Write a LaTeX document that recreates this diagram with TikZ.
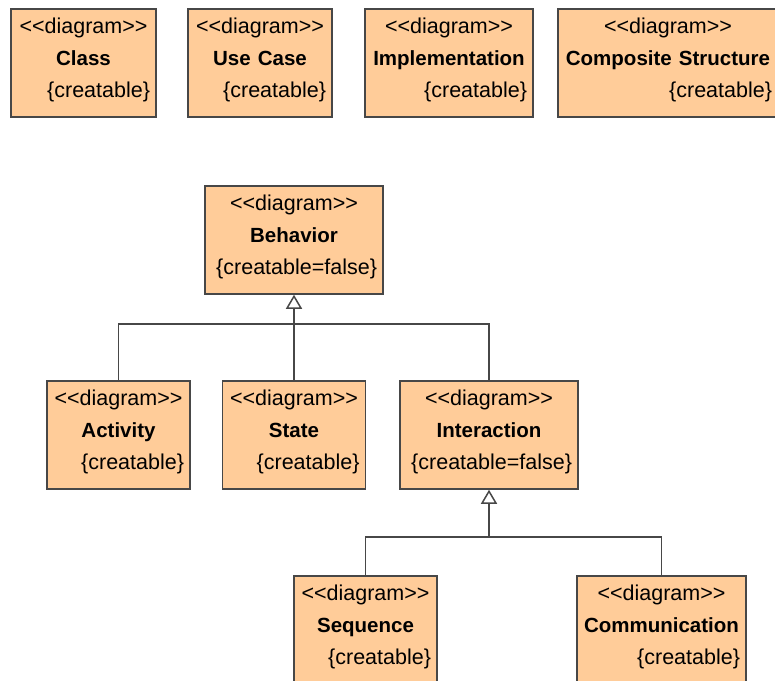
\documentclass[tikz,border=0pt]{standalone}
\usepackage{fontspec}
\setmainfont{Liberation Sans}[Ligatures=TeXOff]
\usetikzlibrary{arrows.meta}

\definecolor{boxfill}{HTML}{FFCC99}
\definecolor{boxline}{HTML}{474747}

% three-line diagram box text: stereotype, bold name, right-aligned property
\newcommand{\stereo}{<<diagram>>}
\newcommand{\diagtext}[2]{\rule{0pt}{24pt}\stereo\\{\fontsize{20.5}{32}\selectfont\bfseries #1}\\\makebox[\hsize][r]{#2}\rule[-20pt]{0pt}{20pt}}

\tikzset{
  dbox/.style={draw=boxline, fill=boxfill, line width=1.5pt,
    inner xsep=6pt, inner ysep=0pt, align=center,
    font=\fontsize{21.5}{32}\selectfont, text width=#1},
  conn/.style={draw=boxline, line width=1.5pt},
  gen/.style={conn, -{Triangle[length=14pt, width=16pt, fill=white]}}
}

\begin{document}
\begin{tikzpicture}[x=1pt, y=-1pt]
  \useasboundingbox (0,0) rectangle (775,680);

  % top row
  \node[dbox=133pt] (class)     at (83.5,63) {\diagtext{Class}{\{creatable\}}};
  \node[dbox=132pt] (usecase)   at (260,63)  {\diagtext{Use Case}{\{creatable\}}};
  \node[dbox=156pt] (impl)      at (449,63)  {\diagtext{Implementation}{\{creatable\}}};
  \node[dbox=208pt] (composite) at (668,63)  {\diagtext{Composite Structure}{\{creatable\}}};

  % behavior hierarchy
  \node[dbox=166pt] (behavior)    at (294,240)   {\diagtext{Behavior}{\{creatable=false\}}};
  \node[dbox=131pt] (activity)    at (118.5,435) {\diagtext{Activity}{\{creatable\}}};
  \node[dbox=131pt] (state)       at (294,435)   {\diagtext{State}{\{creatable\}}};
  \node[dbox=166pt] (interaction) at (489,435)   {\diagtext{Interaction}{\{creatable=false\}}};
  \node[dbox=131pt] (sequence)    at (365.5,630) {\diagtext{Sequence}{\{creatable\}}};
  \node[dbox=157pt] (communication) at (661.5,630) {\diagtext{Communication}{\{creatable\}}};

  % generalization to Behavior
  \coordinate (bbus) at (294,324);
  \draw[conn] (activity.north) |- (bbus) -| (interaction.north);
  \draw[conn] (state.north) -- (bbus);
  \draw[gen] (bbus) -- (behavior.south);

  % generalization to Interaction
  \coordinate (ibus) at (489,537);
  \draw[conn] (sequence.north) |- (ibus) -| (communication.north);
  \draw[gen] (ibus) -- (interaction.south);
\end{tikzpicture}
\end{document}
